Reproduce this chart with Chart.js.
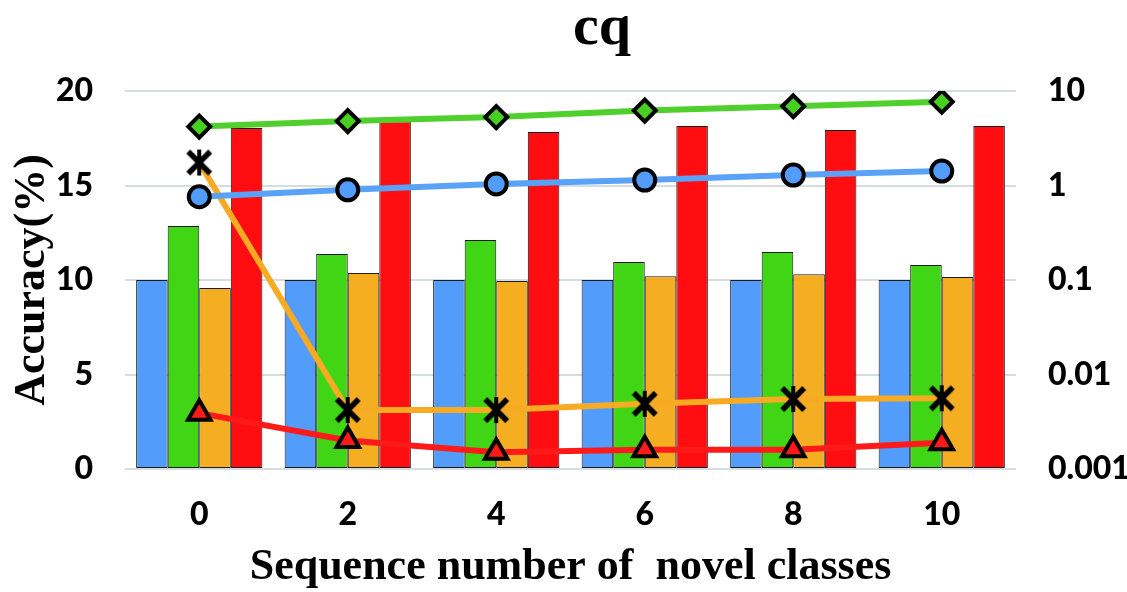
<!DOCTYPE html>
<html>
<head>
<meta charset="utf-8">
<script src="https://cdn.jsdelivr.net/npm/chart.js@4"></script>
<style>
  html, body { margin: 0; padding: 0; background: #ffffff; }
  #wrap { width: 1127px; height: 592px; position: relative; }
</style>
</head>
<body>
<div id="wrap"><canvas id="c" width="1127" height="592"></canvas></div>
<script>
// ---- data ----
const titleText = "cq";
const xTitle = "Sequence number of  novel classes";
const yTitle = "Accuracy(%)";
const categories = ["0", "2", "4", "6", "8", "10"];
const leftTicks = [0, 5, 10, 15, 20];
const rightTicks = [0.001, 0.01, 0.1, 1, 10];
const rightTickLabels = ["0.001", "0.01", "0.1", "1", "10"];

const barBlue = [10, 10, 10, 10, 10, 10];
const barGreen = [12.86, 11.38, 12.12, 10.95, 11.48, 10.8];
const barOrange = [9.58, 10.37, 9.95, 10.2, 10.3, 10.16];
const barRed = [18.04, 18.4, 17.83, 18.15, 17.94, 18.15];

const lineGreen = [4.2, 4.8, 5.3, 6.2, 6.9, 7.7];
const lineBlue = [0.76, 0.9, 1.04, 1.14, 1.29, 1.42];
const lineOrange = [1.75, 0.0042, 0.0042, 0.0049, 0.0055, 0.0056];
const lineRed = [0.0039, 0.002, 0.0015, 0.0016, 0.0016, 0.0019];

// ---- custom star-like marker (X with vertical bar) ----
function makeStar() {
  const cv = document.createElement('canvas');
  cv.width = 30; cv.height = 30;
  const g = cv.getContext('2d');
  g.strokeStyle = '#000';
  g.lineCap = 'butt';
  g.lineWidth = 5.5;
  g.beginPath();
  g.moveTo(4, 4); g.lineTo(26, 26);
  g.moveTo(26, 4); g.lineTo(4, 26);
  g.stroke();
  g.lineWidth = 4;
  g.beginPath();
  g.moveTo(15, 2); g.lineTo(15, 28);
  g.stroke();
  return cv;
}
const starMarker = makeStar();

const tickFont = { family: "Lato, 'Open Sans', sans-serif", weight: 900, size: 32 };
const titleFont = { family: "'Liberation Serif', 'Times New Roman', serif", weight: 'bold', size: 44, lineHeight: 1.0 };

const titlePlugin = {
  id: 'customTitle',
  afterDraw(chart) {
    const ctx = chart.ctx;
    ctx.save();
    ctx.font = "bold 58px 'Liberation Serif', 'Times New Roman', serif";
    ctx.fillStyle = '#000';
    ctx.textAlign = 'center';
    ctx.textBaseline = 'alphabetic';
    ctx.fillText(titleText, 602, 44);
    ctx.restore();
  }
};

const barCommon = { type: 'bar', yAxisID: 'y', borderColor: '#1a1a1a', borderWidth: 1, borderSkipped: false, order: 2,
  categoryPercentage: 0.85, barPercentage: 1.0 };
const lineCommon = { type: 'line', yAxisID: 'y1', borderWidth: 6, tension: 0, order: 1,
  pointBorderColor: '#000', pointBorderWidth: 4, fill: false };

new Chart(document.getElementById('c'), {
  data: {
    labels: categories,
    datasets: [
      Object.assign({}, barCommon, { label: 'b1', data: barBlue, backgroundColor: '#529dfb' }),
      Object.assign({}, barCommon, { label: 'b2', data: barGreen, backgroundColor: '#40d615' }),
      Object.assign({}, barCommon, { label: 'b3', data: barOrange, backgroundColor: '#f5ae22' }),
      Object.assign({}, barCommon, { label: 'b4', data: barRed, backgroundColor: '#ff0d10' }),
      Object.assign({}, lineCommon, { label: 'l1', data: lineGreen, borderColor: '#4fd02c', pointStyle: 'rectRot', pointRadius: 11, backgroundColor: '#4fd02c', pointBackgroundColor: '#48d020' }),
      Object.assign({}, lineCommon, { label: 'l2', data: lineBlue, borderColor: '#5aa2f8', pointStyle: 'circle', pointRadius: 10.5, backgroundColor: '#5aa2f8', pointBackgroundColor: '#529dfb' }),
      Object.assign({}, lineCommon, { label: 'l3', data: lineOrange, borderColor: '#f7aa22', pointStyle: starMarker, pointRadius: 14, backgroundColor: '#f7aa22' }),
      Object.assign({}, lineCommon, { label: 'l4', data: lineRed, borderColor: '#ff1a1a', pointStyle: 'triangle', pointRadius: 13, backgroundColor: '#ff1a1a', pointBackgroundColor: '#ff1a1a' })
    ]
  },
  options: {
    responsive: false,
    animation: false,
    devicePixelRatio: 1,
    layout: { padding: { top: 91, left: 0, right: 0, bottom: 0 } },
    plugins: { legend: { display: false }, title: { display: false }, tooltip: { enabled: false } },
    scales: {
      x: {
        offset: true,
        grid: { display: false, drawTicks: false },
        border: { display: false },
        ticks: { color: '#000', font: tickFont, padding: 26, maxRotation: 0 },
        title: { display: true, text: xTitle, color: '#000', font: titleFont, padding: { top: 0, bottom: 2 } },
        afterFit(s) { s.height = 123; }
      },
      y: {
        position: 'left',
        min: 0, max: 20,
        afterBuildTicks(s) { s.ticks = leftTicks.map(v => ({ value: v })); },
        grid: { color: '#d6dde1', lineWidth: 2, drawTicks: false },
        border: { display: false },
        ticks: { color: '#000', font: tickFont, padding: 32 },
        title: { display: true, text: yTitle, color: '#000', font: titleFont, padding: { top: 11, bottom: 0 } },
        afterFit(s) { s.width = 125; }
      },
      y1: {
        type: 'logarithmic',
        position: 'right',
        min: 0.001, max: 10,
        afterBuildTicks(s) { s.ticks = rightTicks.map(v => ({ value: v })); },
        grid: { display: false, drawTicks: false },
        border: { display: false },
        ticks: {
          color: '#000', font: tickFont, padding: 32,
          callback: function (v) { const i = rightTicks.indexOf(v); return i >= 0 ? rightTickLabels[i] : ''; }
        },
        afterFit(s) { s.width = 111; }
      }
    }
  },
  plugins: [titlePlugin]
});
</script>
</body>
</html>
